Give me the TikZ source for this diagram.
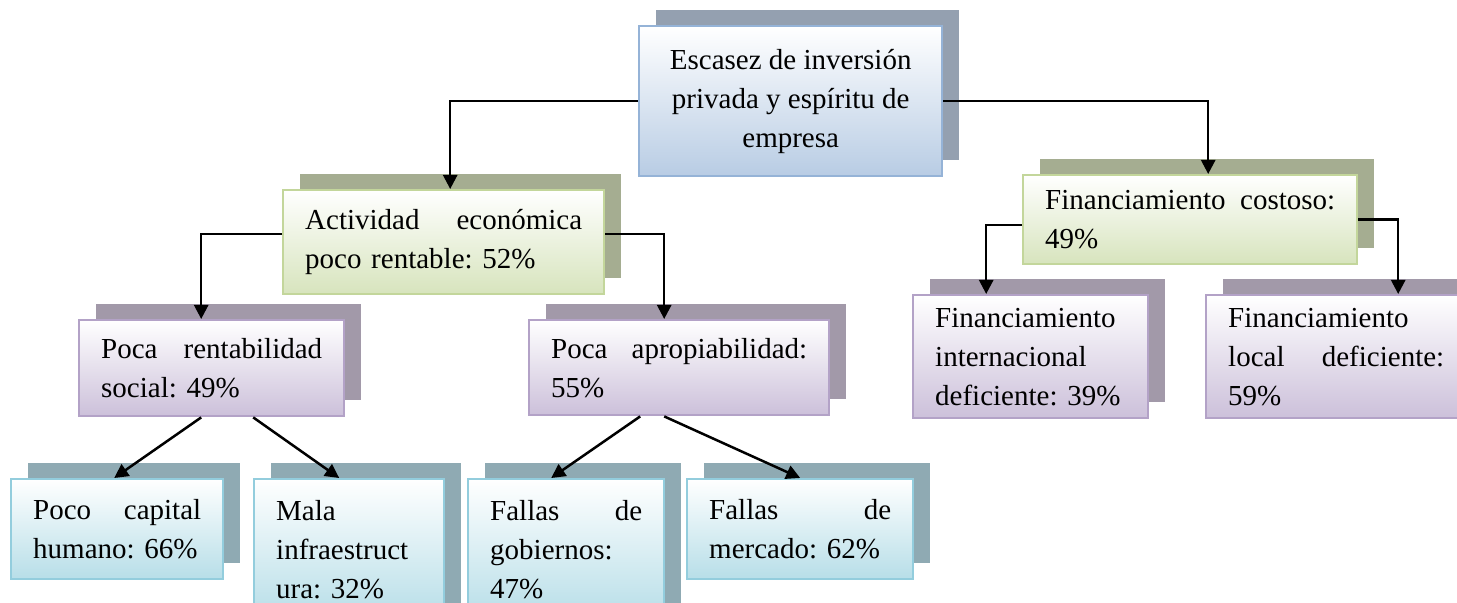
\documentclass[tikz,border=0pt]{standalone}
\usepackage{fontspec}
\setmainfont{Liberation Serif}
\usetikzlibrary{arrows.meta,shadows}

\definecolor{blueend}{HTML}{B8CCE4}
\definecolor{blueline}{HTML}{95B3D7}
\definecolor{blueshadow}{HTML}{94A0B0}
\definecolor{greenend}{HTML}{D7E4BD}
\definecolor{greenline}{HTML}{C3D69B}
\definecolor{greenshadow}{HTML}{A5AD91}
\definecolor{purpleend}{HTML}{CCC0DA}
\definecolor{purpleline}{HTML}{B3A2C7}
\definecolor{purpleshadow}{HTML}{A299A9}
\definecolor{cyanend}{HTML}{B7DEE8}
\definecolor{cyanline}{HTML}{93CDDD}
\definecolor{cyanshadow}{HTML}{8FAAB3}

\begin{document}
\begin{tikzpicture}[x=0.5pt,y=-0.5pt,
					font=\fontsize{14.5}{19.5}\selectfont\frenchspacing,
					%thick,
					box/.style={draw,line width=1.2pt,anchor=north west,
						inner xsep=11pt,inner ysep=0pt,align=left,top color=white},
					blue box/.style={box,draw=blueline,bottom color=blueend,
						general shadow={fill=blueshadow,shadow xshift=8.5pt,shadow yshift=8pt}},
					green box/.style={box,draw=greenline,bottom color=greenend,
						general shadow={fill=greenshadow,shadow xshift=8.5pt,shadow yshift=8pt}},
					purple box/.style={box,draw=purpleline,bottom color=purpleend,
						general shadow={fill=purpleshadow,shadow xshift=8.5pt,shadow yshift=8pt}},
					cyan box/.style={box,draw=cyanline,bottom color=cyanend,
						general shadow={fill=cyanshadow,shadow xshift=8.5pt,shadow yshift=8pt}},
					link/.style={line width=1.25pt,-{Triangle[length=7pt,width=7pt]}}]

  \useasboundingbox (0,0) rectangle (1457,603);
  \clip (0,0) rectangle (1457,603);

  \node[blue box,align=center,minimum width=151.5pt,minimum height=75pt] (root) at (638,25)
    {Escasez de inversión\\privada y espíritu de\\empresa};

  % second level
  \node[green box,text width=138.5pt,minimum height=52pt] (act) at (282,189)
    {Actividad \hfill económica\\poco rentable: 52\%};
  \node[green box,text width=145pt,minimum height=44.5pt] (fin) at (1022,174)
    {Financiamiento \hfill costoso:\\49\%};

  % third level
  \node[purple box,text width=110.5pt,minimum height=48pt] (rent) at (78,319)
    {Poca \hfill rentabilidad\\social: 49\%};
  \node[purple box,text width=128pt,minimum height=47.5pt] (apro) at (528,319)
    {Poca \hfill apropiabilidad:\\55\%};
  \node[purple box,text width=95.5pt,minimum height=61.5pt] (inter) at (912,294)
    {Financiamiento\\internacional\\deficiente: 39\%};
  \node[purple box,text width=108pt,minimum height=61.5pt] (local) at (1205,294)
    {Financiamiento\\local \hfill deficiente:\\59\%};

  % fourth level
  \node[cyan box,text width=84pt,minimum height=50pt] (capital) at (10,478)
    {Poco \hfill capital\\humano: 66\%};
  \node[cyan box,text width=73pt,minimum height=70pt] (infra) at (253,478)
    {Mala\\infraestruct\\ura: 32\%};
  \node[cyan box,text width=76pt,minimum height=70pt] (gob) at (467,478)
    {Fallas \hfill de\\gobiernos:\\47\%};
  \node[cyan box,text width=91pt,minimum height=50pt] (merc) at (686,478)
    {Fallas \hfill de\\mercado: 62\%};

  \draw[link] (root.west) -| ([xshift=3.25pt]act.north);
  \draw[link] (root.east) -| ([xshift=9pt]fin.north);
  \draw[link] ([yshift=4pt]act.west) -| ([xshift=-5.25pt]rent.north);
  \draw[link] ([yshift=4pt]act.east) -| ([xshift=-7.5pt]apro.north);
  \draw[link] ([yshift=-2.75pt]fin.west) -| ([xshift=-22.25pt]inter.north);
  \draw[link] (fin.east) -| ([xshift=31pt]local.north);

  \path[link]
    ([xshift=-5.25pt]rent.south) edge ([xshift=-1.5pt]capital.north)
    ([xshift=20.75pt]rent.south) edge ([xshift=-5pt]infra.north)
    ([xshift=-19.5pt]apro.south) edge ([xshift=-7.5pt]gob.north)
    ([xshift=-7.5pt]apro.south) edge (merc.north);
\end{tikzpicture}
\end{document}
